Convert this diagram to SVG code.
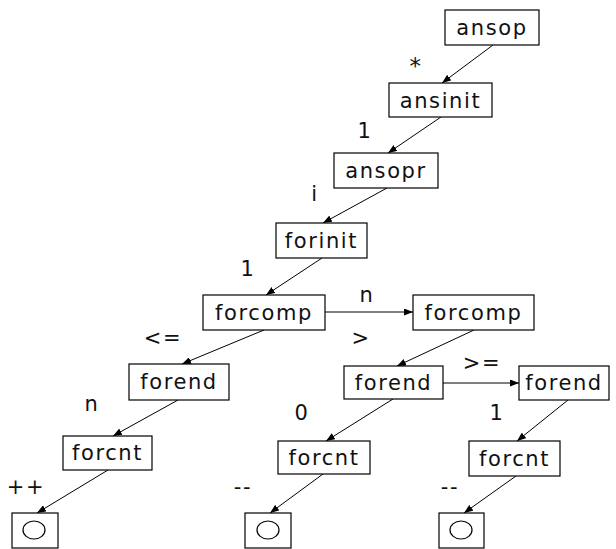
<svg xmlns="http://www.w3.org/2000/svg" width="616" height="549" viewBox="0 0 616 549">
<defs>
<marker id="ah" markerWidth="9" markerHeight="7" refX="9" refY="3.5" orient="auto" markerUnits="userSpaceOnUse"><path d="M0,0 L9,3.5 L0,7 Z" fill="#000"/></marker>
</defs>
<style>
.box{fill:#fff;stroke:#000;stroke-width:1.2}
.t{font-family:"DejaVu Sans",sans-serif;font-size:21px;letter-spacing:1.6px;text-anchor:middle;fill:#111}
.l{font-family:"DejaVu Sans",sans-serif;font-size:21px;letter-spacing:1.6px;text-anchor:middle;fill:#111}
.e{stroke:#000;stroke-width:1;fill:none;marker-end:url(#ah)}
.o{fill:none;stroke:#000;stroke-width:1.2}
</style>
<rect width="616" height="549" fill="#fff"/>
<g id="edges">
<line class="e" x1="493" y1="45" x2="442" y2="83"/>
<line class="e" x1="441" y1="117" x2="388" y2="153"/>
<line class="e" x1="387" y1="188" x2="323" y2="223"/>
<line class="e" x1="322" y1="258" x2="266" y2="295"/>
<line class="e" x1="264" y1="330" x2="182" y2="364"/>
<line class="e" x1="325" y1="312" x2="413" y2="312"/>
<line class="e" x1="474" y1="330" x2="397" y2="366"/>
<line class="e" x1="443" y1="383" x2="519" y2="383"/>
<line class="e" x1="178" y1="400" x2="113" y2="436"/>
<line class="e" x1="393" y1="399" x2="326" y2="441"/>
<line class="e" x1="568" y1="400" x2="517" y2="441"/>
<line class="e" x1="108" y1="470" x2="37" y2="513"/>
<line class="e" x1="323" y1="474" x2="270" y2="513"/>
<line class="e" x1="516" y1="476" x2="464" y2="513"/>
<text class="l" x="416" y="74" style="font-size:23px">*</text>
<text class="l" x="365" y="138">1</text>
<text class="l" x="315" y="201">i</text>
<text class="l" x="248" y="276">1</text>
<text class="l" x="163" y="345">&lt;=</text>
<text class="l" x="367" y="302">n</text>
<text class="l" x="361" y="345">&gt;</text>
<text class="l" x="482" y="370">&gt;=</text>
<text class="l" x="92" y="411">n</text>
<text class="l" x="302" y="420">0</text>
<text class="l" x="497" y="420">1</text>
<text class="l" x="26" y="494">++</text>
<text class="l" x="243" y="494">--</text>
<text class="l" x="450" y="494">--</text>
</g>
<g id="ansop"><rect class="box" x="445" y="10" width="94" height="35"/><text class="t" x="492" y="35">ansop</text></g>
<g id="ansinit"><rect class="box" x="389" y="83" width="103" height="34"/><text class="t" x="440.5" y="108">ansinit</text></g>
<g id="ansopr"><rect class="box" x="334" y="153" width="104" height="35"/><text class="t" x="386" y="178">ansopr</text></g>
<g id="forinit"><rect class="box" x="276" y="223" width="91" height="35"/><text class="t" x="321.5" y="248">forinit</text></g>
<g id="forcomp1"><rect class="box" x="203" y="295" width="122" height="35"/><text class="t" x="264" y="320">forcomp</text></g>
<g id="forcomp2"><rect class="box" x="413" y="295" width="121" height="35"/><text class="t" x="473.5" y="320">forcomp</text></g>
<g id="forend1"><rect class="box" x="129" y="364" width="100" height="36"/><text class="t" x="179" y="389">forend</text></g>
<g id="forend2"><rect class="box" x="344" y="366" width="99" height="33"/><text class="t" x="393.5" y="390">forend</text></g>
<g id="forend3"><rect class="box" x="519" y="366" width="90" height="34"/><text class="t" x="564" y="390">forend</text></g>
<g id="forcnt1"><rect class="box" x="63" y="436" width="89" height="34"/><text class="t" x="107.5" y="460">forcnt</text></g>
<g id="forcnt2"><rect class="box" x="278" y="441" width="92" height="33"/><text class="t" x="324" y="465">forcnt</text></g>
<g id="forcnt3"><rect class="box" x="469" y="441" width="91" height="35"/><text class="t" x="514.5" y="466">forcnt</text></g>
<g id="leaf1"><rect class="box" x="12" y="513" width="46" height="35"/><ellipse class="o" cx="34" cy="530" rx="11" ry="9"/></g>
<g id="leaf2"><rect class="box" x="245" y="513" width="46" height="35"/><ellipse class="o" cx="268" cy="530" rx="11" ry="9"/></g>
<g id="leaf3"><rect class="box" x="439" y="513" width="45" height="35"/><ellipse class="o" cx="461" cy="530" rx="11" ry="9"/></g>
</svg>
